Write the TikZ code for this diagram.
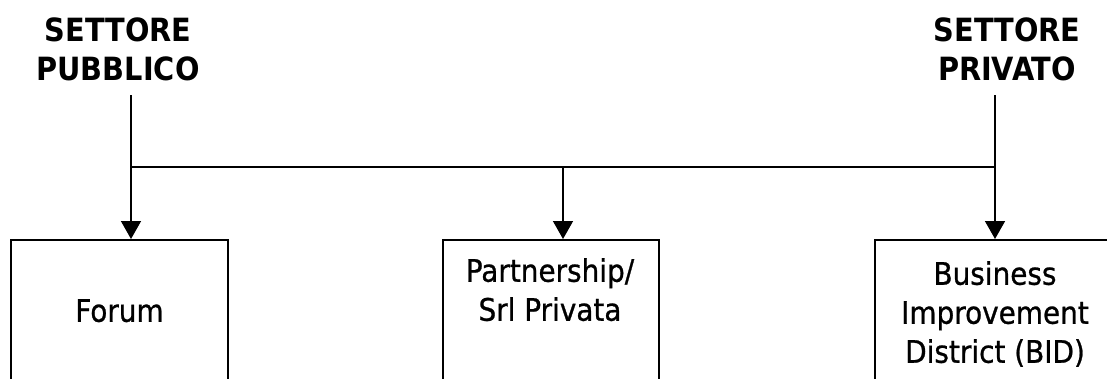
\documentclass[tikz,border=0pt]{standalone}
\usepackage{fontspec}
\setmainfont{DejaVu Sans Condensed}
\newfontfamily\boxfont{DejaVu Sans Condensed}[FakeBold=0.8]
\usetikzlibrary{arrows.meta}
\begin{document}
\begin{tikzpicture}[x=1pt,y=-1pt,
  wire/.style={line width=1.5pt},
  arr/.style={wire,-{Triangle[width=20pt,length=18pt]}},
  unitbox/.style={draw,line width=1.6pt,minimum height=170pt,inner sep=0pt,anchor=north},
  head/.style={font=\bfseries\fontsize{32}{39}\selectfont,align=center,inner sep=0pt,anchor=north},
  boxtext/.style={font=\boxfont\fontsize{31}{39}\selectfont,align=center,inner sep=0pt,anchor=north}]
  \useasboundingbox (0,0) rectangle (1107,378);
  \clip (0,0) rectangle (1107,378);

  % sector headings
  \node[head] (pub)  at (118,18)  {SETTORE\\PUBBLICO};
  \node[head] (priv) at (1007,18) {SETTORE\\PRIVATO};

  % partnership forms
  \node[unitbox,minimum width=217pt] (forum)   at (119.5,239) {};
  \node[unitbox,minimum width=216pt] (partner) at (551,239)   {};
  \node[unitbox,minimum width=240pt] (bid)     at (995,239)   {};

  \node[boxtext] (forumtxt)   at (119.5,299) {Forum};
  \node[boxtext] (partnertxt) at (550,258)   {Partnership/\\Srl Privata};
  \node[boxtext] (bidtxt)     at (995,261)   {Business\\Improvement\\District (BID)};

  % connectors
  \coordinate (pubstart)  at (131,95);
  \coordinate (privstart) at (995,95);
  \coordinate (jl) at (131,167);
  \coordinate (jm) at (563,167);
  \coordinate (jr) at (995,167);

  \draw[arr]  (pubstart)  -- (pubstart |- forum.north);
  \draw[arr]  (privstart) -- (privstart |- bid.north);
  \draw[wire] (jl) -- (jr);
  \draw[arr]  (jm) -- (jm |- partner.north);
\end{tikzpicture}
\end{document}
